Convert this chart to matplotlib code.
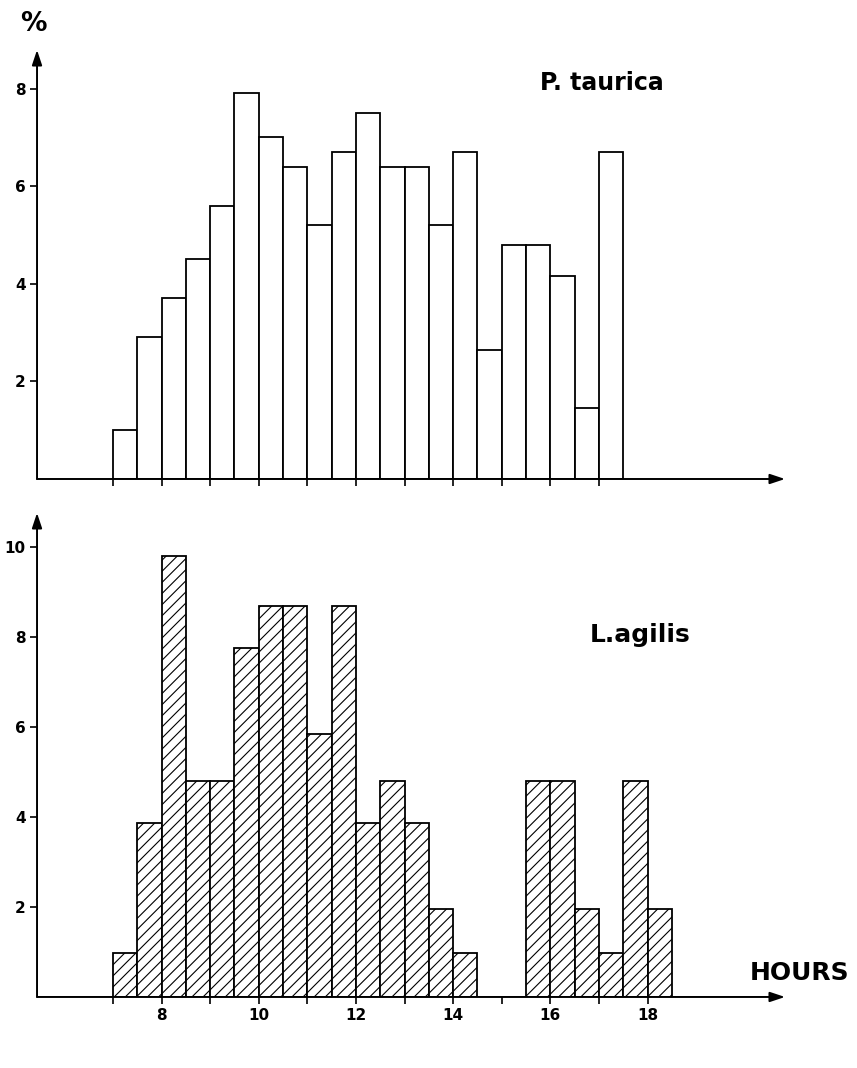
import numpy as np
import matplotlib
matplotlib.use("Agg")
from matplotlib import pyplot as plt

plt.rcParams["font.family"] = ["DejaVu Sans"]
plt.rcParams["font.weight"] = "bold"
plt.rcParams["hatch.linewidth"] = 0.8

# half-hour bins, left edge in hours
taurica_start = [7.0, 7.5, 8.0, 8.5, 9.0, 9.5, 10.0, 10.5, 11.0, 11.5, 12.0,
                 12.5, 13.0, 13.5, 14.0, 14.5, 15.0, 15.5, 16.0, 16.5, 17.0]
taurica_pct = [1.0, 2.9, 3.7, 4.5, 5.6, 7.9, 7.0, 6.4, 5.2, 6.7, 7.5,
               6.4, 6.4, 5.2, 6.7, 2.65, 4.8, 4.8, 4.15, 1.45, 6.7]

agilis_start = [7.0, 7.5, 8.0, 8.5, 9.0, 9.5, 10.0, 10.5, 11.0, 11.5, 12.0,
                12.5, 13.0, 13.5, 14.0, 15.5, 16.0, 16.5, 17.0, 17.5, 18.0]
agilis_pct = [0.97, 3.87, 9.8, 4.8, 4.8, 7.75, 8.7, 8.7, 5.85, 8.7, 3.87,
              4.8, 3.87, 1.95, 0.97, 4.8, 4.8, 1.95, 0.97, 4.8, 1.95]

top_ticks = list(range(7, 18))
bottom_ticks = list(range(7, 19))
bottom_labels = ["" if h % 2 else str(h) for h in bottom_ticks]

fig = plt.figure(figsize=(8.57, 10.68), dpi=100)
ax1 = fig.add_axes([0.0432, 0.5515, 0.8728, 0.4017])
ax2 = fig.add_axes([0.0432, 0.0665, 0.8728, 0.4532])

xlim = (5.436, 20.83)


def style_axis(ax, ymax):
    ax.set_xlim(*xlim)
    ax.set_ylim(0, ymax)
    for s in ax.spines.values():
        s.set_visible(False)
    arrow = dict(arrowstyle="-|>,head_length=0.9,head_width=0.3", lw=1.4,
                 color="k", mutation_scale=10, shrinkA=0, shrinkB=0)
    ax.annotate("", xy=(1, 0), xytext=(0, 0), xycoords="axes fraction",
                arrowprops=arrow)
    ax.annotate("", xy=(0, 1), xytext=(0, 0), xycoords="axes fraction",
                arrowprops=arrow)
    ax.tick_params(direction="out", length=5, width=1.2, labelsize=11, pad=3)


ax1.bar(taurica_start, taurica_pct, width=0.5, align="edge",
        facecolor="white", edgecolor="k", linewidth=1.3)
style_axis(ax1, 8.79)
ax1.set_yticks([2, 4, 6, 8])
ax1.set_xticks(top_ticks)
ax1.set_xticklabels([])
ax1.text(17.06, 8.11, "P. taurica", ha="center", va="center", fontsize=17,
         fontweight="bold")

ax2.bar(agilis_start, agilis_pct, width=0.5, align="edge",
        facecolor="white", edgecolor="k", linewidth=1.3, hatch="///")
style_axis(ax2, 10.76)
ax2.set_yticks([2, 4, 6, 8, 10])
ax2.set_xticks(bottom_ticks)
ax2.set_xticklabels(bottom_labels)
ax2.text(17.84, 8.04, "L.agilis", ha="center", va="center", fontsize=18,
         fontweight="bold")
ax2.text(21.13, 0.53, "HOURS", ha="center", va="center", fontsize=18,
         fontweight="bold", clip_on=False)

fig.text(33 / 857, 1 - 24 / 1068, "%", ha="center", va="center", fontsize=19,
         fontweight="bold")

fig.savefig("out.png", dpi=100, facecolor="white")
